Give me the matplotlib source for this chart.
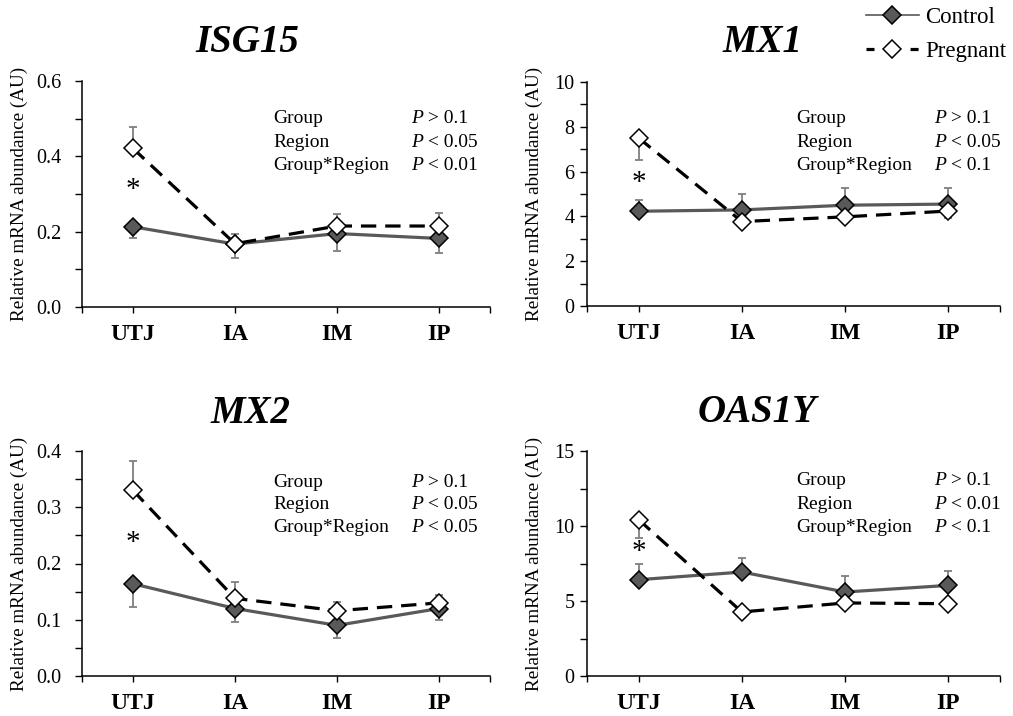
import matplotlib
matplotlib.use("Agg")
import matplotlib.pyplot as plt
from matplotlib.lines import Line2D
from matplotlib.ticker import MultipleLocator

plt.rcParams["font.family"] = ["Liberation Serif", "DejaVu Serif"]

regions = ["UTJ", "IA", "IM", "IP"]
genes = ["ISG15", "MX1", "MX2", "OAS1Y"]

# means
control = {
    "ISG15": [0.213, 0.167, 0.195, 0.182],
    "MX1": [4.23, 4.29, 4.50, 4.55],
    "MX2": [0.164, 0.120, 0.090, 0.120],
    "OAS1Y": [6.42, 6.93, 5.60, 6.04],
}
pregnant = {
    "ISG15": [0.421, 0.168, 0.215, 0.215],
    "MX1": [7.50, 3.77, 3.98, 4.24],
    "MX2": [0.330, 0.138, 0.116, 0.130],
    "OAS1Y": [10.42, 4.27, 4.87, 4.82],
}
# one-sided SEM bars (lower, upper)
control_err = {
    "ISG15": ([0.029, 0.036, 0.046, 0.038], [0, 0, 0, 0]),
    "MX1": ([0, 0, 0, 0], [0.49, 0.70, 0.79, 0.70]),
    "MX2": ([0.041, 0.024, 0.022, 0.020], [0, 0, 0, 0]),
    "OAS1Y": ([0, 0, 0, 0], [1.07, 0.96, 1.07, 0.96]),
}
pregnant_err = {
    "ISG15": ([0, 0, 0, 0], [0.057, 0.026, 0.031, 0.035]),
    "MX1": ([0.99, 0.25, 0.25, 0.32], [0, 0, 0, 0]),
    "MX2": ([0, 0, 0, 0], [0.052, 0.030, 0.016, 0.014]),
    "OAS1Y": ([1.20, 0.30, 0.30, 0.30], [0, 0, 0, 0]),
}
y_max = {"ISG15": 0.6, "MX1": 10, "MX2": 0.4, "OAS1Y": 15}
y_major = {"ISG15": 0.2, "MX1": 2, "MX2": 0.1, "OAS1Y": 5}
y_fmt = {"ISG15": "{:.1f}", "MX1": "{:.0f}", "MX2": "{:.1f}", "OAS1Y": "{:.0f}"}
star_y = {"ISG15": 0.31, "MX1": 5.5, "MX2": 0.236, "OAS1Y": 8.27}
stats = {
    "ISG15": ["> 0.1", "< 0.05", "< 0.01"],
    "MX1": ["> 0.1", "< 0.05", "< 0.1"],
    "MX2": ["> 0.1", "< 0.05", "< 0.05"],
    "OAS1Y": ["> 0.1", "< 0.01", "< 0.1"],
}
effects = ["Group", "Region", "Group*Region"]

W, H = 1013, 716
fig = plt.figure(figsize=(W / 100, H / 100), dpi=100)

# axes boxes in pixels: left, top, right, bottom
boxes = {
    "ISG15": (82, 81, 490, 307),
    "MX1": (587, 82, 1000, 306),
    "MX2": (82, 451, 490, 676),
    "OAS1Y": (587, 451, 1000, 676),
}
title_pos = {"ISG15": (247, 52), "MX1": (763, 52), "MX2": (251, 423), "OAS1Y": (757, 422)}
label_x = {"ISG15": -0.132, "MX1": -0.106, "MX2": -0.132, "OAS1Y": -0.106}
ytick_pad = {"ISG15": 10, "MX1": 4, "MX2": 10, "OAS1Y": 4}
text_y = {"ISG15": [0.836, 0.730, 0.628], "MX1": [0.839, 0.732, 0.629],
          "MX2": [0.862, 0.764, 0.662], "OAS1Y": [0.867, 0.764, 0.662]}
text_x = {"ISG15": (0.468, 0.806), "MX1": (0.506, 0.840),
          "MX2": (0.468, 0.806), "OAS1Y": (0.506, 0.840)}

ctrl_color = "#595959"
err_color = "#7f7f7f"
x = list(range(len(regions)))

for g in genes:
    l, t, r, b = boxes[g]
    ax = fig.add_axes([l / W, 1 - b / H, (r - l) / W, (b - t) / H])

    ax.errorbar(x, control[g], yerr=control_err[g], fmt="none", ecolor=err_color,
                elinewidth=1.3, capsize=3, capthick=1.3, zorder=2)
    ax.errorbar(x, pregnant[g], yerr=pregnant_err[g], fmt="none", ecolor=err_color,
                elinewidth=1.3, capsize=3, capthick=1.3, zorder=2)
    ax.plot(x, control[g], color=ctrl_color, lw=2.3, marker="D", ms=9,
            mfc=ctrl_color, mec="black", mew=1.1, zorder=3)
    ax.plot(x, pregnant[g], color="black", lw=2.3, ls=(0, (4.8, 2.8)), marker="D", ms=9,
            mfc="white", mec="black", mew=1.1, zorder=4)

    ax.text(0, star_y[g], "*", ha="center", va="center", fontsize=21)

    x1, x2 = text_x[g]
    for eff, st, yy in zip(effects, stats[g], text_y[g]):
        ax.text(x1, yy, eff, transform=ax.transAxes, va="center", fontsize=14)
        tp = ax.text(x2, yy, "P", transform=ax.transAxes, va="center", fontsize=14,
                     style="italic")
        ax.annotate(" " + st, xy=(1, 0), xycoords=tp, va="bottom", fontsize=14)

    ax.set_xlim(-0.5, 3.5)
    ax.set_ylim(0, y_max[g])
    ax.set_xticks([-0.5] + x + [3.5])
    ax.set_xticklabels([""] + regions + [""], fontsize=17, fontweight="bold")
    ax.yaxis.set_major_locator(MultipleLocator(y_major[g]))
    ax.yaxis.set_minor_locator(MultipleLocator(y_major[g] / 2))
    ax.set_yticks(ax.get_yticks())
    ax.set_yticklabels([y_fmt[g].format(v) for v in ax.get_yticks()], fontsize=14.5)
    ax.set_ylim(0, y_max[g])
    ax.tick_params(axis="y", which="both", direction="out", length=5, width=1,
                   pad=ytick_pad[g])
    ax.tick_params(axis="x", direction="out", length=4, width=1, pad=8)
    ax.set_ylabel("Relative mRNA abundance (AU)", fontsize=13.8)
    ax.yaxis.set_label_coords(label_x[g], 0.5)
    for s in ("top", "right"):
        ax.spines[s].set_visible(False)
    for s in ("left", "bottom"):
        ax.spines[s].set_linewidth(1.1)

    tx, ty = title_pos[g]
    fig.text(tx / W, 1 - ty / H, g, ha="center", va="baseline", fontsize=28,
             fontweight="bold", style="italic")

handles = [
    Line2D([], [], color=ctrl_color, lw=1.2, marker="D", ms=9, mfc=ctrl_color,
           mec="black", mew=1.1),
    Line2D([], [], color="black", lw=2.3, ls=(0, (2.5, 11.3)), marker="D", ms=9,
           mfc="white", mec="black", mew=1.1),
]
fig.legend(handles, ["Control", "Pregnant"], loc="upper left",
           bbox_to_anchor=(866 / W, 1 - 7 / H), frameon=False, fontsize=16.5,
           handlelength=2.3, handletextpad=0.3, labelspacing=0.55, borderpad=0,
           borderaxespad=0)

fig.savefig("out.png", dpi=100)
